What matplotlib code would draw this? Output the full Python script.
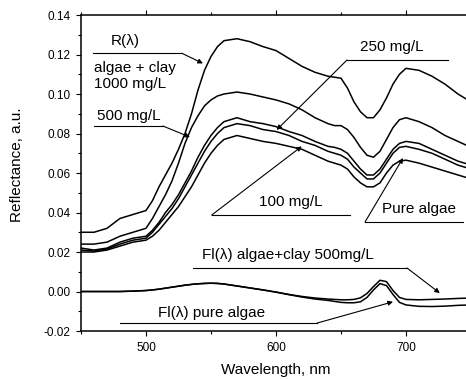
import matplotlib
matplotlib.use("Agg")
import matplotlib.pyplot as plt
from matplotlib.ticker import MultipleLocator, FormatStrFormatter

plt.rcParams['font.family'] = ['Liberation Sans', 'DejaVu Sans']
plt.rcParams['axes.unicode_minus'] = False

# ---- data (wavelength in nm) ----
wl = [450, 460, 470, 480, 490, 500,
      505, 510, 515, 520, 525, 530, 535, 540, 545, 550, 555, 560,
      570, 580, 590, 600, 610, 620, 630, 640,
      645, 650, 655, 660, 665, 670, 675, 680, 685, 690, 695, 700,
      710, 720, 730, 740, 750]

r_1000 = [.030, .030, .032, .037, .039, .041,
          .046, .053, .059, .065, .072, .080, .090, .102, .112, .119, .124, .127,
          .128, .1265, .124, .122, .118, .114, .111, .109,
          .1085, .108, .103, .096, .091, .088, .088, .092, .098, .105, .110, .113,
          .112, .109, .105, .100, .096]

r_500 = [.024, .024, .025, .028, .030, .032,
         .037, .043, .049, .056, .065, .075, .083, .089, .094, .097, .099, .100,
         .101, .100, .0985, .097, .095, .092, .088, .085,
         .084, .084, .082, .078, .073, .069, .068, .071, .077, .083, .087, .088,
         .086, .083, .079, .076, .073]

r_250 = [.022, .021, .022, .025, .027, .028,
         .031, .035, .040, .044, .049, .055, .061, .068, .074, .079, .083, .086,
         .088, .086, .085, .0835, .081, .079, .076, .0735,
         .073, .072, .070, .066, .062, .059, .059, .062, .067, .072, .075, .076,
         .075, .072, .069, .066, .064]

r_100 = [.021, .0205, .0215, .024, .026, .027,
         .030, .034, .038, .042, .047, .053, .059, .065, .071, .076, .080, .083,
         .085, .084, .082, .081, .079, .076, .074, .071,
         .070, .069, .067, .063, .060, .057, .057, .060, .065, .070, .073, .0735,
         .072, .070, .067, .064, .062]

r_pure = [.020, .020, .021, .023, .025, .026,
          .028, .031, .035, .039, .043, .048, .053, .059, .065, .070, .074, .077,
          .079, .0775, .076, .075, .0735, .072, .069, .066,
          .065, .064, .062, .058, .055, .053, .053, .055, .060, .064, .066, .0665,
          .065, .063, .061, .059, .057]

fl_clay = [.0, .0, .0, .0, .0002, .0005,
           .0008, .0012, .0017, .0022, .0027, .0032, .0036, .0039, .0041, .0042, .0041, .0038,
           .0028, .0018, .0008, -.0003, -.0015, -.0025, -.0033, -.0038,
           -.0040, -.0042, -.0042, -.0040, -.0032, -.0010, .0025, .0057, .0050, .0005, -.0030, -.0040,
           -.0042, -.0040, -.0038, -.0035, -.0033]

fl_pure = [.0, .0, .0, .0, .0002, .0005,
           .0008, .0012, .0017, .0022, .0027, .0032, .0036, .0039, .0041, .0042, .0041, .0038,
           .0028, .0018, .0008, -.0003, -.0016, -.0028, -.0038, -.0045,
           -.0050, -.0055, -.0057, -.0057, -.0052, -.0030, .0008, .0040, .0030, -.0015, -.0055, -.0068,
           -.0075, -.0076, -.0074, -.0070, -.0068]

fig = plt.figure(figsize=(4.66, 3.79), dpi=100)
ax = fig.add_axes([0.1738, 0.1266, 0.8369, 0.8338])

for ys in (r_1000, r_500, r_250, r_100, r_pure, fl_clay, fl_pure):
    ax.plot(wl, ys, color='black', lw=1.1)

ax.set_xlim(450, 750)
ax.set_ylim(-0.02, 0.14)
ax.xaxis.set_major_locator(MultipleLocator(100))
ax.xaxis.set_minor_locator(MultipleLocator(50))
ax.yaxis.set_major_locator(MultipleLocator(0.02))
ax.yaxis.set_minor_locator(MultipleLocator(0.01))
ax.yaxis.set_major_formatter(FormatStrFormatter('%.2f'))
ax.tick_params(which='both', direction='out', top=True, width=0.8, labelsize=8.5, pad=4)
ax.tick_params(which='major', length=3.6)
ax.tick_params(which='minor', length=2.2)
for s in ax.spines.values():
    s.set_linewidth(1.1)

ax.set_xlabel('Wavelength, nm', fontsize=11)
ax.set_ylabel('Reflectance, a.u.', fontsize=11)
ax.xaxis.set_label_coords(0.5, -0.10)
ax.yaxis.set_label_coords(-0.146, 0.525)

# ---- annotations ----
arr = dict(arrowstyle='-|>', color='black', lw=0.8, mutation_scale=7,
           shrinkA=0, shrinkB=0)
fs = 11


def leader(text_xy, text, ha, line_x, line_y, tip, corner_left=False):
    ax.text(text_xy[0], text_xy[1], text, ha=ha, va='center', fontsize=fs)
    ax.plot(line_x, [line_y, line_y], color='black', lw=0.8)
    start = (line_x[0], line_y) if corner_left else (line_x[1], line_y)
    ax.annotate('', xy=tip, xytext=start, arrowprops=arr)


leader((483.8, 0.1266), 'R(λ)', 'center', [459.2, 527.7], 0.1206, (543.8, 0.1155))
ax.text(460, 0.1134, 'algae + clay', ha='left', va='center', fontsize=fs)
ax.text(460, 0.1051, '1000 mg/L', ha='left', va='center', fontsize=fs)
leader((462.3, 0.0889), '500 mg/L', 'left', [460, 513], 0.0838, (533.8, 0.0782))
leader((688.8, 0.1238), '250 mg/L', 'center', [654.6, 732.3], 0.1172, (600.5, 0.0818),
       corner_left=True)
leader((611.5, 0.0452), '100 mg/L', 'center', [550.5, 656.9], 0.0387, (619.8, 0.0735),
       corner_left=True)
leader((710, 0.0418), 'Pure algae', 'center', [668.5, 743.8], 0.0352, (697.7, 0.0676),
       corner_left=True)
leader((543, 0.0185), 'Fl(λ) algae+clay 500mg/L', 'left', [536, 700.8], 0.0119,
       (726, -0.0008))
leader((509.5, -0.0109), 'Fl(λ) pure algae', 'left', [480, 631.5], -0.016, (690, -0.0052))

fig.savefig('out.png', dpi=100)
